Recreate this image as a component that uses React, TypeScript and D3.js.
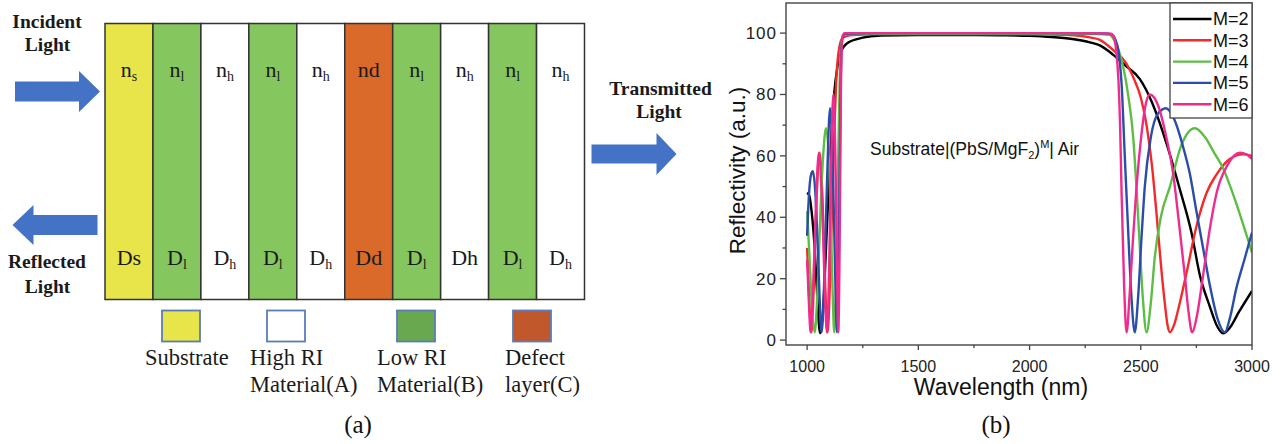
import React from 'react';
import * as d3 from 'd3';

// ---------------- Panel (b) data ----------------
const xTicks = [1000, 1500, 2000, 2500, 3000];
const xMinorTicks = [1250, 1750, 2250, 2750];
const yTicks = [0, 20, 40, 60, 80, 100];
const yMinorTicks = [10, 30, 50, 70, 90];

const seriesNames = ['M=2', 'M=3', 'M=4', 'M=5', 'M=6'];
const seriesColors = ['#000000', '#f42a2a', '#5ebd45', '#2a4ea8', '#ee2c8e'];

const wlM2 = [1000, 1010, 1020, 1032, 1045, 1058, 1070, 1085, 1100, 1110, 1120, 1136, 1150, 1180, 1250, 1330, 1500, 1700, 1867, 2000, 2100, 2200, 2271, 2316, 2375, 2430, 2496, 2550, 2616, 2676, 2728, 2766, 2810, 2840, 2870, 2900, 2940, 3000];
const rM2 = [48, 47, 42, 32, 15, 2.2, 8, 30, 55, 68, 79, 89, 93.5, 96.7, 98.5, 99.2, 99.4, 99.4, 99.3, 99.1, 98.7, 98, 97, 96, 93, 89.5, 85, 77.5, 64, 49, 35, 21, 11, 5, 2.2, 4, 9, 16];

const wlM3 = [1000, 1009, 1019, 1030, 1043, 1056, 1069, 1081, 1092, 1104, 1118, 1132, 1145, 1160, 1200, 1300, 1600, 1900, 2100, 2200, 2271, 2316, 2375, 2436, 2470, 2500, 2526, 2550, 2571, 2590, 2608, 2620, 2631, 2650, 2675, 2706, 2750, 2796, 2841, 2900, 2960, 3000];
const rM3 = [30, 14, 2.5, 18, 47, 61, 46, 18, 2.5, 22, 58, 86, 95.5, 98.5, 99.4, 99.6, 99.6, 99.6, 99.5, 99.3, 98.6, 97.8, 94.5, 90, 85, 79, 70, 57, 41, 25, 12, 5, 2.5, 5, 12, 22, 37, 48, 54, 59, 60.5, 60];

const wlM4 = [1000, 1010, 1022, 1034, 1046, 1060, 1072, 1085, 1097, 1108, 1116, 1122, 1130, 1140, 1150, 1162, 1250, 1600, 2000, 2300, 2360, 2385, 2400, 2421, 2445, 2466, 2482, 2496, 2510, 2526, 2545, 2563, 2590, 2631, 2680, 2743, 2790, 2830, 2870, 2910, 2950, 3000];
const rM4 = [42, 28, 10, 2.5, 15, 42, 60, 69, 60, 35, 12, 2.5, 18, 60, 93, 99.5, 99.8, 99.8, 99.8, 99.7, 99.4, 97, 94.5, 89, 79, 66, 48, 30, 13, 2.5, 12, 27, 40, 50, 63, 69, 66, 61, 56, 48.5, 40, 28.5];

const wlM5 = [1000, 1008, 1018, 1026, 1036, 1048, 1056, 1065, 1075, 1088, 1103, 1115, 1126, 1134, 1142, 1150, 1158, 1170, 1300, 1700, 2100, 2340, 2370, 2385, 2400, 2414, 2428, 2443, 2458, 2473, 2488, 2503, 2518, 2545, 2575, 2613, 2650, 2690, 2721, 2750, 2780, 2810, 2845, 2878, 2900, 2930, 2965, 3000];
const rM5 = [34, 47, 54, 55, 49, 30, 14, 2.5, 15, 48, 75.5, 58, 22, 2.5, 25, 80, 98, 99.8, 100, 100, 100, 99.9, 99.5, 98, 94, 83, 60, 36, 14, 2.5, 14, 33, 50, 66, 73.5, 75.5, 72, 63, 54, 42, 30, 18, 7, 2.5, 7, 17, 26, 35];

const wlM6 = [1000, 1008, 1016, 1026, 1040, 1053, 1066, 1078, 1089, 1098, 1108, 1118, 1127, 1134, 1140, 1146, 1152, 1158, 1168, 1300, 1700, 2100, 2300, 2365, 2380, 2390, 2400, 2407, 2414, 2425, 2436, 2450, 2465, 2481, 2500, 2520, 2541, 2580, 2615, 2646, 2672, 2698, 2715, 2731, 2750, 2780, 2810, 2841, 2890, 2945, 2975, 3000];
const rM6 = [26, 12, 2.5, 15, 45, 61, 47, 20, 2.5, 20, 58, 80, 60, 25, 2.5, 30, 82, 98.5, 100, 100, 100, 100, 100, 99.8, 98.5, 94, 84, 70, 47, 18, 2.5, 15, 33, 50, 65, 76, 80, 76, 66, 54, 38, 21, 9, 2.5, 7, 21, 36, 48, 57, 61, 60.5, 59];

// ---------------- Panel (a) data ----------------
const layerTypes = ['sub', 'low', 'high', 'low', 'high', 'defect', 'low', 'high', 'low', 'high'];
const topLabels: [string, string][] = [['n', 's'], ['n', 'l'], ['n', 'h'], ['n', 'l'], ['n', 'h'], ['nd', ''], ['n', 'l'], ['n', 'h'], ['n', 'l'], ['n', 'h']];
const bottomLabels: [string, string][] = [['Ds', ''], ['D', 'l'], ['D', 'h'], ['D', 'l'], ['D', 'h'], ['Dd', ''], ['D', 'l'], ['Dh', ''], ['D', 'l'], ['D', 'h']];
const layerFill: Record<string, string> = { sub: '#e8e54a', low: '#86c65e', high: '#ffffff', defect: '#d96a2a' };
const legendFills = ['#e8e54a', '#ffffff', '#6aa84f', '#c0582c'];
const legendTexts = [['Substrate'], ['High RI', 'Material(A)'], ['Low RI', 'Material(B)'], ['Defect', 'layer(C)']];
const legendSwatchX = [162, 267, 397, 513];
const legendTextX = [145, 250, 377, 505];

const ARROW = '#4472c4';
const SERIF = '"Liberation Serif", "Times New Roman", serif';
const SANS = 'Arial, "Liberation Sans", Helvetica, sans-serif';

function arrowPath(tail: number, tip: number, cy: number, bodyHalf: number, headHalf: number, headLen: number) {
  const dir = tip > tail ? 1 : -1;
  const hb = tip - dir * headLen;
  return `M${tail},${cy - bodyHalf} L${hb},${cy - bodyHalf} L${hb},${cy - headHalf} L${tip},${cy} L${hb},${cy + headHalf} L${hb},${cy + bodyHalf} L${tail},${cy + bodyHalf} Z`;
}

export default function App() {
  const x = d3.scaleLinear().domain([905, 3000]).range([786, 1252]);
  const y = d3.scaleLinear().domain([-1.6, 109.8]).range([345, 3]);
  const line = d3
    .line<[number, number]>()
    .x((d) => x(d[0]))
    .y((d) => y(d[1]))
    .curve(d3.curveMonotoneX);

  const series = [
    { wl: wlM2, r: rM2 },
    { wl: wlM3, r: rM3 },
    { wl: wlM4, r: rM4 },
    { wl: wlM5, r: rM5 },
    { wl: wlM6, r: rM6 },
  ].map((s, i) => ({
    name: seriesNames[i],
    color: seriesColors[i],
    pts: s.wl.map((w, k) => [w, s.r[k]] as [number, number]),
  }));

  const band = d3.scaleBand<number>().domain(d3.range(layerTypes.length)).range([105, 584.5]);
  const boxTop = 23.5;
  const boxBottom = 299.5;

  const [x0, x1] = x.range();
  const [yb, yt] = y.range();

  const legendRowY = d3.range(seriesNames.length).map((i) => 19 + i * 21.3);

  return (
    <svg width={1281} height={444} style={{ position: 'absolute', left: 0, top: 0, background: '#fff' }}>
      <rect x={0} y={0} width={1281} height={444} fill="#fff" />
      {/* ---------------- Panel (a) ---------------- */}
      {layerTypes.map((t, i) => (
        <rect key={'L' + i} x={band(i)} y={boxTop} width={band.bandwidth()} height={boxBottom - boxTop}
          fill={layerFill[t]} stroke="#333" strokeWidth={1.5} />
      ))}
      {topLabels.map((l, i) => (
        <text key={'t' + i} x={(band(i) as number) + band.bandwidth() / 2} y={76.5} textAnchor="middle"
          fontFamily={SERIF} fontSize={22} fill="#1a1a1a">
          {l[0]}
          {l[1] && <tspan fontSize={14} dy={4}>{l[1]}</tspan>}
        </text>
      ))}
      {bottomLabels.map((l, i) => (
        <text key={'b' + i} x={(band(i) as number) + band.bandwidth() / 2} y={264.5} textAnchor="middle"
          fontFamily={SERIF} fontSize={22} fill="#1a1a1a">
          {l[0]}
          {l[1] && <tspan fontSize={14} dy={4}>{l[1]}</tspan>}
        </text>
      ))}
      {legendFills.map((c, i) => (
        <rect key={'ls' + i} x={legendSwatchX[i]} y={310.5} width={38} height={31} fill={c} stroke="#5a7db5" strokeWidth={1.8} />
      ))}
      {legendTexts.map((lines, i) => (
        <text key={'lt' + i} fontFamily={SERIF} fontSize={22.5} fill="#1a1a1a">
          {lines.map((s, k) => (
            <tspan key={k} x={legendTextX[i]} y={365 + k * 27}>{s}</tspan>
          ))}
        </text>
      ))}
      {/* arrows */}
      <path d={arrowPath(15, 100, 91.5, 10, 20.5, 21)} fill={ARROW} />
      <path d={arrowPath(97.5, 12.5, 225, 10, 20, 21)} fill={ARROW} />
      <path d={arrowPath(591.5, 676.5, 154, 9.5, 21, 20)} fill={ARROW} />
      <g fontFamily={SERIF} fontWeight="bold" fontSize={19.5} fill="#1a1a1a" textAnchor="middle">
        <text x={47} y={27.5}>Incident</text>
        <text x={47.5} y={51}>Light</text>
        <text x={47} y={268}>Reflected</text>
        <text x={47.5} y={292.5}>Light</text>
        <text x={660.5} y={94.5}>Transmitted</text>
        <text x={659} y={118}>Light</text>
      </g>
      <text x={358} y={433} textAnchor="middle" fontFamily={SERIF} fontSize={25} fill="#111">(a)</text>

      {/* ---------------- Panel (b) ---------------- */}
      <defs>
        <clipPath id="plotclip">
          <rect x={x0} y={yt} width={x1 - x0} height={yb - yt} />
        </clipPath>
      </defs>
      <g clipPath="url(#plotclip)">
        {series.map((s) => (
          <path key={s.name} d={line(s.pts) || ''} fill="none" stroke={s.color} strokeWidth={2.4} strokeLinejoin="round" />
        ))}
      </g>
      <rect x={x0} y={yt} width={x1 - x0} height={yb - yt} fill="none" stroke="#444" strokeWidth={1.4} />
      {/* x ticks */}
      {xTicks.map((t) => (
        <g key={'xt' + t}>
          <line x1={x(t)} x2={x(t)} y1={yb} y2={yb + 5} stroke="#444" strokeWidth={1.3} />
          <text x={x(t)} y={371.5} textAnchor="middle" fontFamily={SANS} fontSize={16} fill="#222">{t}</text>
        </g>
      ))}
      {xMinorTicks.map((t) => (
        <line key={'xm' + t} x1={x(t)} x2={x(t)} y1={yb} y2={yb + 3} stroke="#444" strokeWidth={1.3} />
      ))}
      {yTicks.map((t) => (
        <g key={'yt' + t}>
          <line x1={x0} x2={x0 - 6} y1={y(t)} y2={y(t)} stroke="#444" strokeWidth={1.3} />
          <text x={777} y={y(t)} dy="0.35em" textAnchor="end" fontFamily={SANS} fontSize={17} letterSpacing={1} fill="#222">{t}</text>
        </g>
      ))}
      {yMinorTicks.map((t) => (
        <line key={'ym' + t} x1={x0} x2={x0 - 3.5} y1={y(t)} y2={y(t)} stroke="#444" strokeWidth={1.3} />
      ))}
      <text transform="translate(745,170.5) rotate(-90)" textAnchor="middle" fontFamily={SANS} fontSize={22.5} fill="#111">
        Reflectivity (a.u.)
      </text>
      <text x={1001} y={395} textAnchor="middle" fontFamily={SANS} fontSize={23} fill="#111">Wavelength (nm)</text>
      <text x={870} y={155} fontFamily={SANS} fontSize={17.5} fill="#111">
        Substrate|(PbS/MgF
        <tspan fontSize={11} dy={4}>2</tspan>
        <tspan dy={-4}>)</tspan>
        <tspan fontSize={11} dy={-7}>M</tspan>
        <tspan dy={7}>| Air</tspan>
      </text>
      {/* legend */}
      <rect x={1170} y={yt} width={x1 - 1170} height={118 - yt} fill="#fff" stroke="#444" strokeWidth={1.3} />
      {series.map((s, i) => (
        <g key={'lg' + s.name}>
          <line x1={1173} x2={1211.5} y1={legendRowY[i]} y2={legendRowY[i]} stroke={s.color} strokeWidth={2.4} />
          <text x={1213} y={legendRowY[i]} dy="0.36em" fontFamily={SANS} fontSize={18} fill="#111">{s.name}</text>
        </g>
      ))}
      <text x={996} y={433} textAnchor="middle" fontFamily={SERIF} fontSize={25} fill="#111">(b)</text>
    </svg>
  );
}
